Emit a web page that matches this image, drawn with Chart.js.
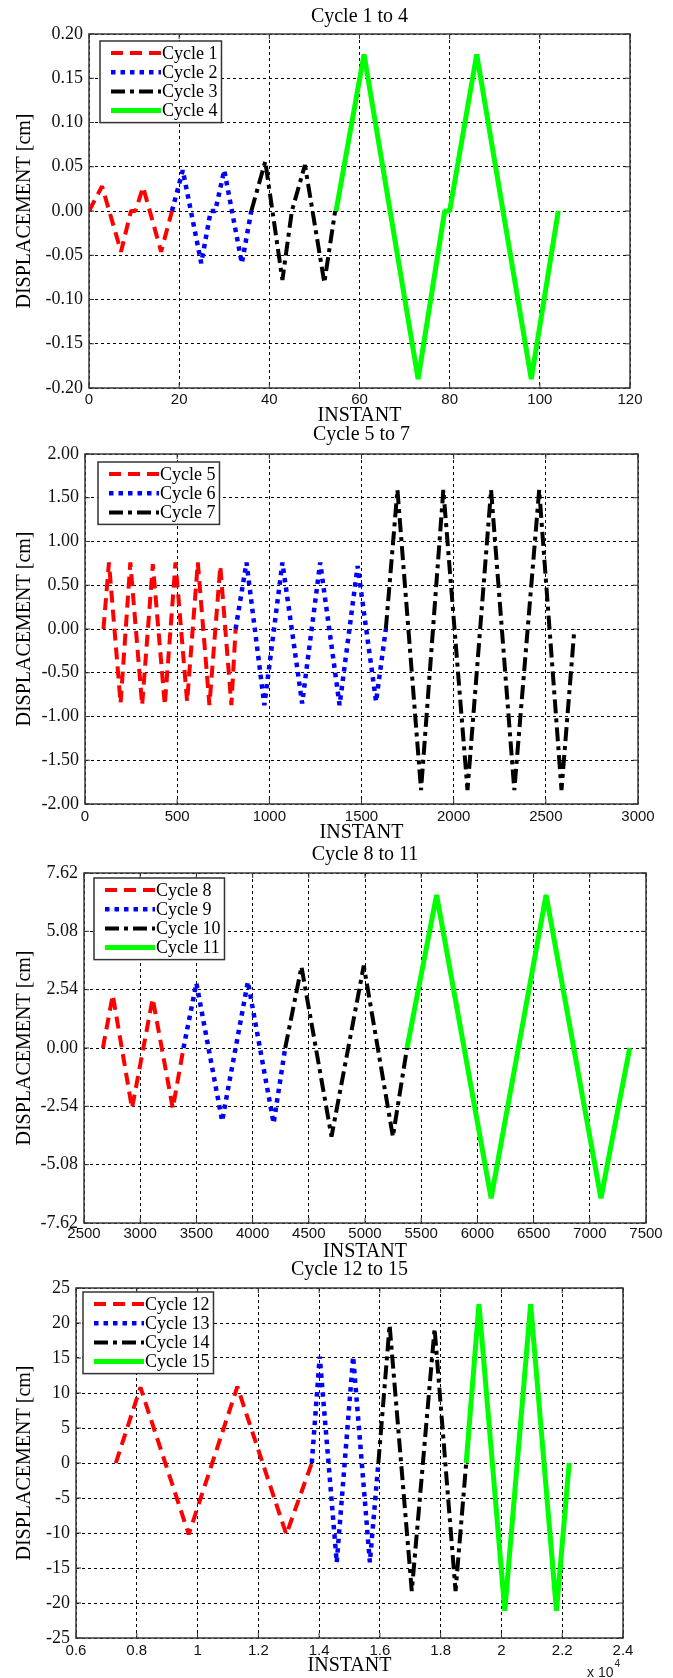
<!DOCTYPE html>
<html>
<head>
<meta charset="utf-8">
<title>Displacement per cycle</title>
<script src="https://cdn.jsdelivr.net/npm/chart.js@4.4.1/dist/chart.umd.min.js"></script>
<style>
  html, body { margin: 0; padding: 0; background: #fff; overflow: hidden; }
  #page { position: relative; width: 673px; height: 1678px; }
  canvas { position: absolute; left: 0; }
</style>
</head>
<body>
<div id="page">
  <canvas id="chart1" width="673" height="430" style="top:0px"></canvas>
  <canvas id="chart2" width="673" height="430" style="top:418px"></canvas>
  <canvas id="chart3" width="673" height="430" style="top:836px"></canvas>
  <canvas id="chart4" width="673" height="428" style="top:1250px"></canvas>
</div>
<script>
// Valores (instante, deslocamento em cm)

// Cycle 1 to 4
const cycle1X = [0, 2.9, 7.1, 9.3, 10.3, 12, 16, 18.4];
const cycle1Y = [0, 0.028, -0.046, 0, 0, 0.027, -0.046, 0];
const cycle2X = [18.4, 20.8, 24.9, 27, 28, 30, 33.9, 36];
const cycle2Y = [0, 0.046, -0.059, 0, 0, 0.046, -0.059, 0];
const cycle3X = [36, 39.1, 42.9, 45, 47.9, 52.2, 54.6];
const cycle3Y = [0, 0.056, -0.078, 0, 0.052, -0.081, 0];
const cycle4X = [54.8, 61, 73, 78.9, 80, 86, 98.1, 104.1];
const cycle4Y = [0, 0.177, -0.19, 0, 0, 0.177, -0.19, 0];
const xTicks1 = [0, 20, 40, 60, 80, 100, 120];
const yTicks1 = [-0.2, -0.15, -0.1, -0.05, 0, 0.05, 0.1, 0.15, 0.2];

// Cycle 5 to 7
const cycle5X = [100, 130, 193, 246, 310, 368, 433, 491, 554, 612, 675, 734, 794, 817];
const cycle5Y = [0, 0.76, -0.85, 0.76, -0.87, 0.74, -0.87, 0.76, -0.83, 0.76, -0.87, 0.72, -0.87, 0];
const cycle6X = [817, 876, 973, 1071, 1178, 1276, 1381, 1479, 1579, 1632];
const cycle6Y = [0, 0.76, -0.87, 0.76, -0.85, 0.76, -0.87, 0.72, -0.83, 0];
const cycle7X = [1632, 1695, 1823, 1944, 2075, 2203, 2329, 2464, 2585, 2655];
const cycle7Y = [0, 1.59, -1.84, 1.59, -1.84, 1.59, -1.84, 1.59, -1.84, 0];
const xTicks2 = [0, 500, 1000, 1500, 2000, 2500, 3000];
const yTicks2 = [-2, -1.5, -1, -0.5, 0, 0.5, 1, 1.5, 2];

// Cycle 8 to 11
const cycle8X = [2668, 2756, 2927, 3111, 3290, 3385];
const cycle8Y = [0, 2.31, -2.63, 2.16, -2.63, 0];
const cycle9X = [3385, 3500, 3729, 3958, 4187, 4290];
const cycle9Y = [0, 2.82, -3.18, 2.89, -3.28, 0];
const cycle10X = [4290, 4435, 4702, 4989, 5248, 5374];
const cycle10Y = [0, 3.54, -3.86, 3.59, -3.86, 0];
const cycle11X = [5374, 5637, 6122, 6611, 7099, 7355];
const cycle11Y = [0, 6.66, -6.54, 6.66, -6.54, 0];
const xTicks3 = [2500, 3000, 3500, 4000, 4500, 5000, 5500, 6000, 6500, 7000, 7500];
const yTicks3 = [-7.62, -5.08, -2.54, 0, 2.54, 5.08, 7.62];

// Cycle 12 to 15
const cycle12X = [7310, 8120, 9710, 11310, 12920, 13760];
const cycle12Y = [0, 10.8, -10.2, 10.9, -10.2, 0];
const cycle13X = [13760, 14020, 14580, 15120, 15670, 15950];
const cycle13Y = [0, 15.2, -14.2, 15.2, -14.2, 0];
const cycle14X = [15950, 16320, 17050, 17800, 18490, 18840];
const cycle14Y = [0, 19.7, -18.3, 19.2, -18.3, 0];
const cycle15X = [18840, 19260, 20110, 20960, 21810, 22230];
const cycle15Y = [0, 22.7, -21.1, 22.7, -21.1, 0];
const xTicks4 = [6000, 8000, 10000, 12000, 14000, 16000, 18000, 20000, 22000, 24000];
const yTicks4 = [-25, -20, -15, -10, -5, 0, 5, 10, 15, 20, 25];

const SERIF = '"Liberation Serif", "Times New Roman", serif';
const SANS = '"Liberation Sans", Arial, sans-serif';

// estilos das linhas (tracejado, pontilhado, traço-ponto, contínuo)
const dashed = { color: '#ff0000', width: 4, dash: [12, 7] };
const dotted = { color: '#0000ff', width: 4.5, dash: [4.5, 5] };
const dashDot = { color: '#000000', width: 4, dash: [14, 5, 4, 5] };
const solid = { color: '#00ff00', width: 5, dash: [] };

function toPoints(xs, ys) {
    return xs.map((x, i) => ({ x: x, y: ys[i] }));
}

// Moldura estilo MATLAB: caixa completa e marcas de escala para dentro
const matlabFrame = {
    id: 'matlabFrame',
    afterDatasetsDraw(chart, args, opts) {
        const ctx = chart.ctx;
        const ca = chart.chartArea;
        const sx = chart.scales.x, sy = chart.scales.y;
        ctx.save();
        ctx.setLineDash([]);
        ctx.strokeStyle = '#333';
        ctx.lineWidth = 1;
        ctx.beginPath();
        sx.ticks.forEach(t => {
            const px = sx.getPixelForValue(t.value);
            ctx.moveTo(px, ca.bottom); ctx.lineTo(px, ca.bottom - 5);
            ctx.moveTo(px, ca.top); ctx.lineTo(px, ca.top + 5);
        });
        sy.ticks.forEach(t => {
            const py = sy.getPixelForValue(t.value);
            ctx.moveTo(ca.left, py); ctx.lineTo(ca.left + 5, py);
            ctx.moveTo(ca.right, py); ctx.lineTo(ca.right - 5, py);
        });
        ctx.stroke();
        ctx.lineWidth = 1.5;
        ctx.strokeStyle = '#3a3a3a';
        ctx.strokeRect(ca.left, ca.top, ca.right - ca.left, ca.bottom - ca.top);
        if (opts.note) {
            ctx.fillStyle = '#222';
            ctx.font = '14px ' + SANS;
            ctx.textBaseline = 'alphabetic';
            ctx.fillText(opts.note, opts.noteX, opts.noteY);
            const w = ctx.measureText(opts.note).width;
            ctx.font = '10px ' + SANS;
            ctx.fillText(opts.sup, opts.noteX + w + 1, opts.noteY - 10);
        }
        ctx.restore();
    }
};

// Legenda com caixa dentro da área do gráfico (canto superior esquerdo)
const boxLegend = {
    id: 'boxLegend',
    afterDatasetsDraw(chart, args, opts) {
        const ctx = chart.ctx;
        const ca = chart.chartArea;
        const sets = chart.data.datasets;
        const rowH = 19.2;
        ctx.save();
        ctx.font = '18px ' + SERIF;
        let tw = 0;
        sets.forEach(d => { tw = Math.max(tw, ctx.measureText(d.label).width); });
        const left = ca.left + opts.dx, top = ca.top + opts.dy;
        const w = 62 + tw + 4, h = 24 + (sets.length - 1) * rowH;
        ctx.fillStyle = '#fff';
        ctx.fillRect(left, top, w, h);
        ctx.strokeStyle = '#333';
        ctx.lineWidth = 1.5;
        ctx.strokeRect(left, top, w, h);
        sets.forEach((d, i) => {
            const y = top + 12 + i * rowH;
            ctx.beginPath();
            ctx.setLineDash(d.borderDash || []);
            ctx.strokeStyle = d.borderColor;
            ctx.lineWidth = d.borderWidth;
            ctx.moveTo(left + 11, y);
            ctx.lineTo(left + 61, y);
            ctx.stroke();
            ctx.setLineDash([]);
            ctx.fillStyle = '#000';
            ctx.textBaseline = 'middle';
            ctx.fillText(d.label, left + 62, y + 1);
        });
        ctx.restore();
    }
};

function makeChart(id, p) {
    const f = p.frame;
    return new Chart(document.getElementById(id).getContext('2d'), {
        type: 'line',
        data: {
            datasets: p.series.map(s => ({
                label: s.label,
                data: s.points,
                borderColor: s.style.color,
                borderWidth: s.style.width,
                borderDash: s.style.dash,
                borderJoinStyle: 'bevel',
                pointRadius: 0,
                fill: false,
                tension: 0
            }))
        },
        options: {
            responsive: false,
            animation: false,
            devicePixelRatio: 1,
            layout: { padding: { left: 0, right: f.right, top: 0, bottom: 0 } },
            plugins: {
                legend: { display: false },
                tooltip: { enabled: false },
                title: {
                    display: true,
                    fullSize: false,
                    text: p.title,
                    color: '#000',
                    font: { family: SERIF, size: 20, weight: 'normal' },
                    padding: { top: f.titleTop, bottom: f.titleBottom }
                },
                boxLegend: { dx: f.legendX, dy: f.legendY },
                matlabFrame: p.note || {}
            },
            scales: {
                x: {
                    type: 'linear',
                    min: p.xTicks[0],
                    max: p.xTicks[p.xTicks.length - 1],
                    afterBuildTicks: s => { s.ticks = p.xTicks.map(v => ({ value: v })); },
                    afterFit: s => { s.height = f.xHeight; },
                    ticks: {
                        callback: p.xFormat,
                        color: '#111',
                        font: { family: SANS, size: 15 },
                        padding: f.tickPad,
                        maxRotation: 0,
                        autoSkip: false
                    },
                    grid: { color: '#000', lineWidth: 1, drawTicks: false },
                    border: { display: false, dash: [3, 3] },
                    title: {
                        display: true,
                        text: 'INSTANT',
                        color: '#000',
                        font: { family: SERIF, size: 20 },
                        padding: { top: 0, bottom: f.xTitleBottom }
                    }
                },
                y: {
                    type: 'linear',
                    min: p.yTicks[0],
                    max: p.yTicks[p.yTicks.length - 1],
                    afterBuildTicks: s => { s.ticks = p.yTicks.map(v => ({ value: v })); },
                    afterFit: s => { s.width = f.left; },
                    ticks: {
                        callback: p.yFormat,
                        color: '#111',
                        font: { family: SERIF, size: 18 },
                        padding: 6,
                        autoSkip: false
                    },
                    grid: { color: '#000', lineWidth: 1, drawTicks: false },
                    border: { display: false, dash: [3, 3] },
                    title: {
                        display: true,
                        text: 'DISPLACEMENT [cm]',
                        color: '#000',
                        font: { family: SERIF, size: 20 },
                        padding: { top: 13, bottom: 0 }
                    }
                }
            }
        },
        plugins: [matlabFrame, boxLegend]
    });
}

const fixed2 = v => Number(v).toFixed(2);
const plain = v => String(v);

makeChart('chart1', {
    title: 'Cycle 1 to 4',
    xTicks: xTicks1, yTicks: yTicks1, xFormat: plain, yFormat: fixed2,
    frame: { left: 89, right: 43, titleTop: 5, titleBottom: 5, xHeight: 42, tickPad: 3, xTitleBottom: 2, legendX: 11, legendY: 7 },
    series: [
        { label: 'Cycle 1', points: toPoints(cycle1X, cycle1Y), style: dashed },
        { label: 'Cycle 2', points: toPoints(cycle2X, cycle2Y), style: dotted },
        { label: 'Cycle 3', points: toPoints(cycle3X, cycle3Y), style: dashDot },
        { label: 'Cycle 4', points: toPoints(cycle4X, cycle4Y), style: solid }
    ]
});

makeChart('chart2', {
    title: 'Cycle 5 to 7',
    xTicks: xTicks2, yTicks: yTicks2, xFormat: plain, yFormat: fixed2,
    frame: { left: 85, right: 35, titleTop: 5, titleBottom: 7, xHeight: 44, tickPad: 4, xTitleBottom: 3, legendX: 13, legendY: 8 },
    series: [
        { label: 'Cycle 5', points: toPoints(cycle5X, cycle5Y), style: dashed },
        { label: 'Cycle 6', points: toPoints(cycle6X, cycle6Y), style: dotted },
        { label: 'Cycle 7', points: toPoints(cycle7X, cycle7Y), style: dashDot }
    ]
});

makeChart('chart3', {
    title: 'Cycle 8 to 11',
    xTicks: xTicks3, yTicks: yTicks3, xFormat: plain, yFormat: fixed2,
    frame: { left: 84, right: 27, titleTop: 7, titleBottom: 6, xHeight: 43, tickPad: 2, xTitleBottom: 2, legendX: 10, legendY: 5 },
    series: [
        { label: 'Cycle 8', points: toPoints(cycle8X, cycle8Y), style: dashed },
        { label: 'Cycle 9', points: toPoints(cycle9X, cycle9Y), style: dotted },
        { label: 'Cycle 10', points: toPoints(cycle10X, cycle10Y), style: dashDot },
        { label: 'Cycle 11', points: toPoints(cycle11X, cycle11Y), style: solid }
    ]
});

makeChart('chart4', {
    title: 'Cycle 12 to 15',
    xTicks: xTicks4, yTicks: yTicks4,
    xFormat: v => String(Math.round(v / 1000) / 10),
    yFormat: plain,
    note: { note: 'x 10', sup: '4', noteX: 587, noteY: 427 },
    frame: { left: 76, right: 50, titleTop: 8, titleBottom: 6, xHeight: 40, tickPad: 4, xTitleBottom: 0, legendX: 7, legendY: 4 },
    series: [
        { label: 'Cycle 12', points: toPoints(cycle12X, cycle12Y), style: dashed },
        { label: 'Cycle 13', points: toPoints(cycle13X, cycle13Y), style: dotted },
        { label: 'Cycle 14', points: toPoints(cycle14X, cycle14Y), style: dashDot },
        { label: 'Cycle 15', points: toPoints(cycle15X, cycle15Y), style: solid }
    ]
});
</script>
</body>
</html>
